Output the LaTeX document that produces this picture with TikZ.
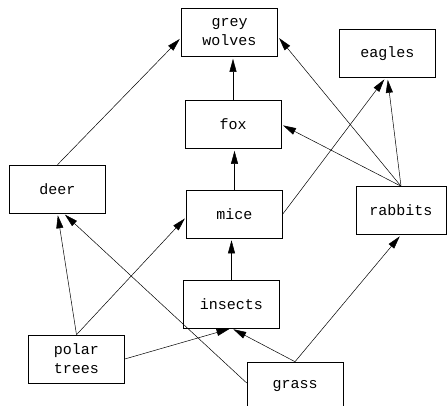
\documentclass[tikz,border=0pt]{standalone}
\usepackage{fontspec}
\setmonofont{Liberation Mono}
\usetikzlibrary{arrows.meta}

\begin{document}
\begin{tikzpicture}[x=1pt, y=-1pt, >={Triangle[length=13pt,width=7pt]},
    animal/.style={draw, rectangle, line width=0.6pt, minimum width=96pt, minimum height=48pt,
      align=center, font=\ttfamily\fontsize{15}{19}\selectfont},
    eats/.style={->, line width=0.5pt, shorten >=2pt}]
      \clip (0,0) rectangle (447,406);
      \useasboundingbox (0,0) rectangle (447,406);

      \node[animal] (wolves) at (229.5,32.5) {grey\\wolves};
      \node[animal] (eagles) at (387.5,53.5) {eagles};
      \node[animal] (fox) at (233,124.5) {fox};
      \node[animal] (deer) at (57.5,189) {deer};
      \node[animal] (mice) at (234.5,214) {mice};
      \node[animal, minimum width=90pt] (rabbits) at (401,210.5) {rabbits};
      \node[animal] (insects) at (231.5,304) {insects};
      \node[animal] (trees) at (76.5,359) {polar\\trees};
      \node[animal] (grass) at (295,386) {grass};

      \path[eats] (deer.north) edge ([yshift=-5pt]wolves.west);
      \path[eats] (fox.north) edge (fox.north |- wolves.south);
      \path[eats] (rabbits.north) edge ([yshift=-4pt]wolves.east);
      \path[eats] (rabbits.north) edge (fox.east);
      \path[eats] (rabbits.north) edge (eagles.south);

      \path[eats] (mice.east) edge ([xshift=-2pt]eagles.south);
      \path[eats] (mice.north) edge (mice.north |- fox.south);
      \path[eats] (insects.north) edge (insects.north |- mice.south);

      \path[eats] (trees.north) edge (deer.south);
      \path[eats] (trees.north) edge ([yshift=-3pt]mice.west);
      \path[eats] (trees.east) edge (insects.south);

      \path[eats] (grass.north) edge (insects.south);
      \path[eats] (grass.north) edge (rabbits.south);
      \path[eats] ([yshift=3pt]grass.west) edge ([xshift=6pt]deer.south);
    \end{tikzpicture}
\end{document}
